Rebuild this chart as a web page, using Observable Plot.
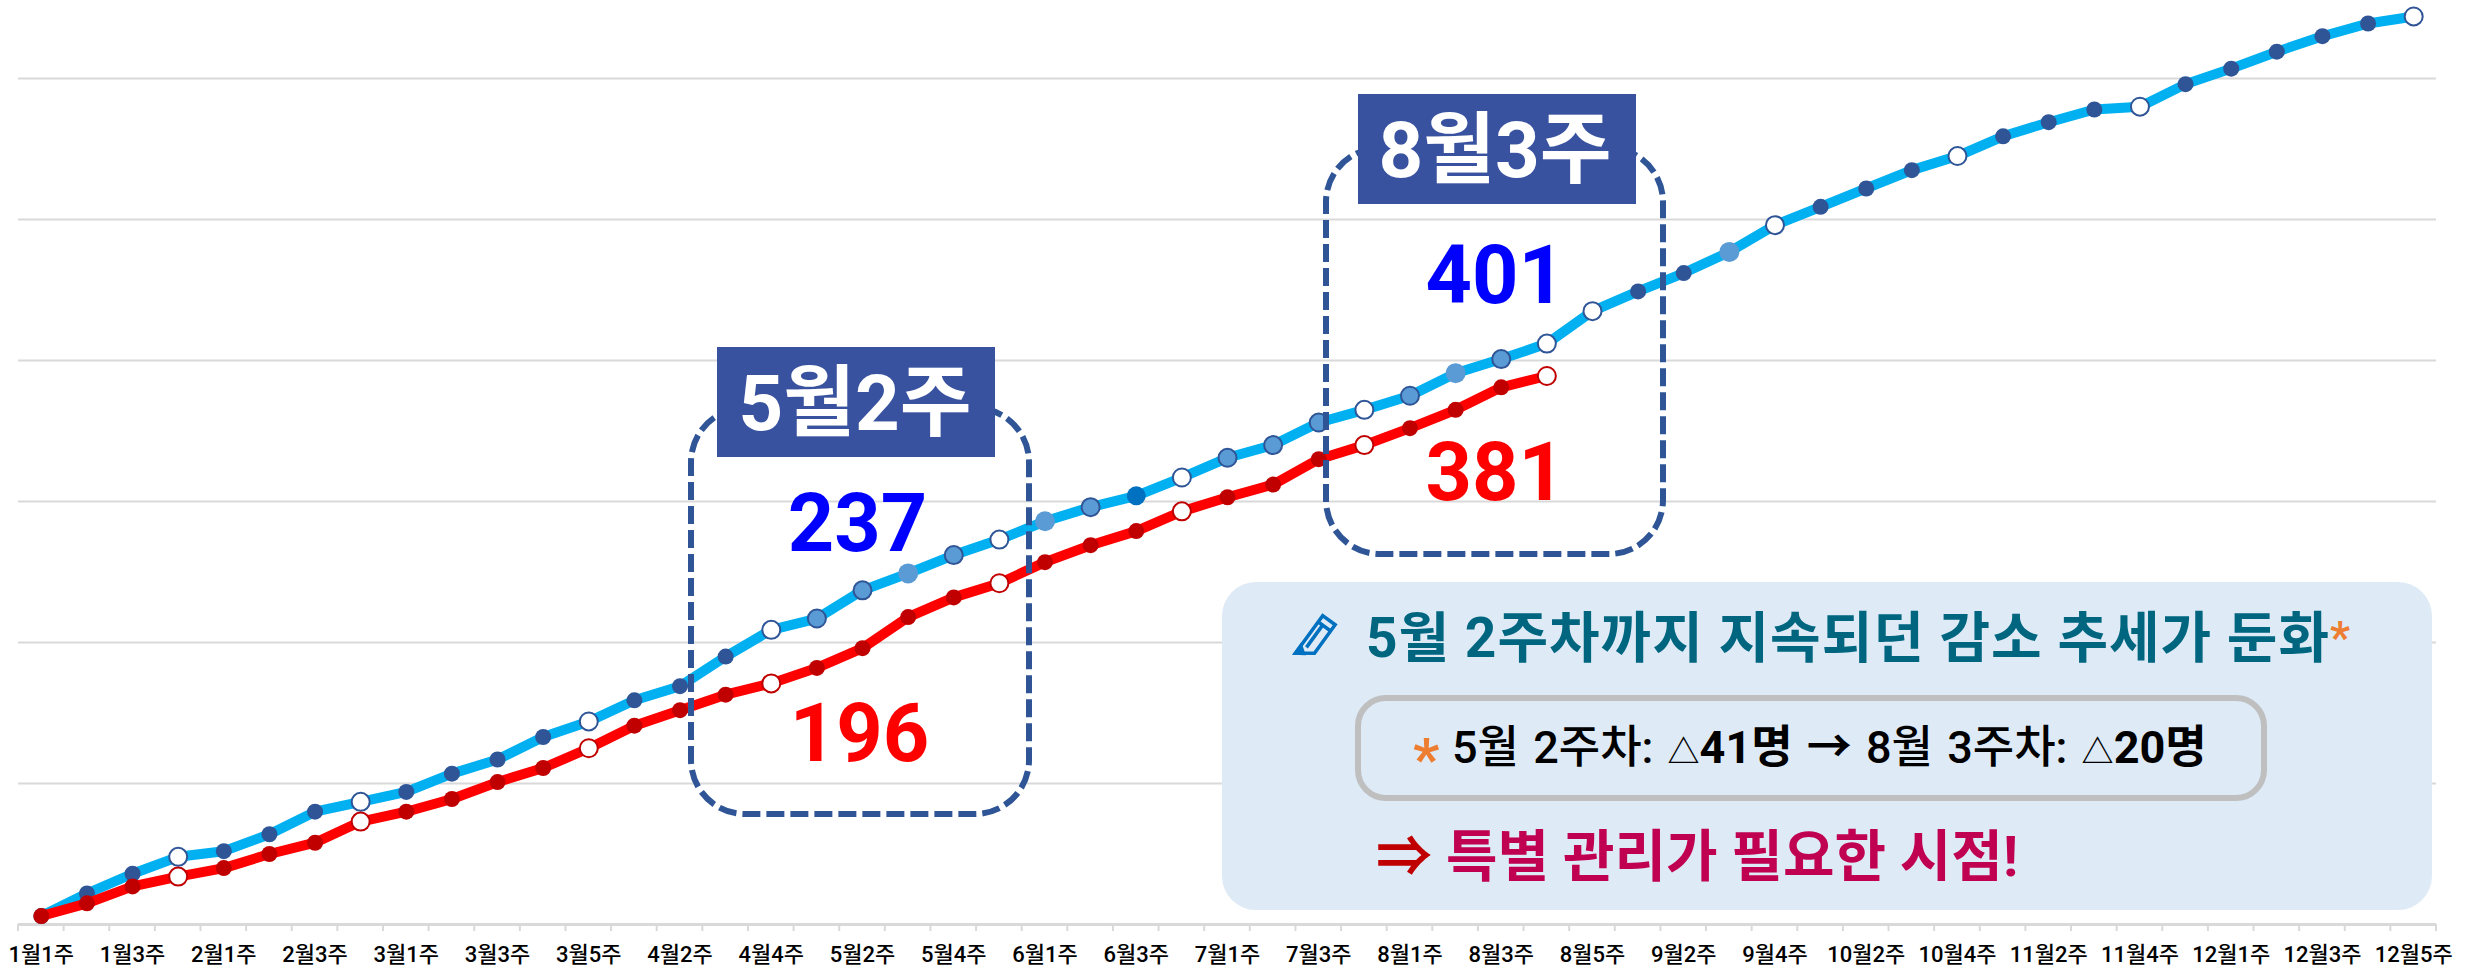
<!DOCTYPE html>
<html lang="ko">
<head>
<meta charset="utf-8">
<script src="https://cdn.jsdelivr.net/npm/d3@7"></script>
<script src="https://cdn.jsdelivr.net/npm/@observablehq/plot@0.6"></script>
<style>
html,body{margin:0;padding:0;background:#fff}
#chart svg{display:block}
</style>
</head>
<body>
<div id="chart"></div>
<script>
const weeks = ["1월1주","1월2주","1월3주","1월4주","2월1주","2월2주","2월3주","2월4주","3월1주","3월2주","3월3주","3월4주","3월5주","4월1주","4월2주","4월3주","4월4주","5월1주","5월2주","5월3주","5월4주","5월5주","6월1주","6월2주","6월3주","6월4주","7월1주","7월2주","7월3주","7월4주","8월1주","8월2주","8월3주","8월4주","8월5주","9월1주","9월2주","9월3주","9월4주","10월1주","10월2주","10월3주","10월4주","11월1주","11월2주","11월3주","11월4주","11월5주","12월1주","12월2주","12월3주","12월4주","12월5주"];
const blueValues = [6,22,36,48,52,64,80,87,94,107,117,133,144,159,169,190,209,217,237,249,262,273,286,296,304,317,331,340,356,365,375,391,401,412,435,449,462,477,496,509,522,535,545,559,569,578,580,596,607,619,630,639,644];
const redValues = [6,15,27,34,40,50,58,73,80,89,101,111,125,141,152,163,171,182,196,218,232,242,257,269,279,293,303,312,330,340,352,365,381,389];
const gridValues = [100,200,300,400,500,600];
const blueHollow = [3,7,12,16,21,25,29,33,34,38,42,46,52];
const blueEdged = [17,18,20,23,26,27,28,30,32];
const bluePale = [19,22,31,37];
const blueDeep = [24];
const redHollow = [3,7,12,16,21,25,29,33];
const calloutWeeks = ["5월2주","5월2주","8월3주","8월3주"];
const calloutValues = [237,196,401,381];
const calloutColors = ["#0000FF","#FF0000","#0000FF","#FF0000"];

const blue = blueValues.map((v,i)=>({week:weeks[i],v,i}));
const red = redValues.map((v,i)=>({week:weeks[i],v,i}));
const special = new Set([...blueHollow,...blueEdged,...bluePale,...blueDeep]);
const redSpecial = new Set(redHollow);
const font = "Roboto, 'Noto Sans CJK KR', sans-serif";
const calloutOffsets = [[-5,-65],[-3,87],[-6,-82],[-6,87]];

function overlay(index, scales, values, dims){
  const g = d3.create("svg:g").attr("font-family", font).attr("text-anchor","start");
  const step = (dims.width-dims.marginLeft-dims.marginRight)/weeks.length;
  const base = dims.height-dims.marginBottom;
  for(let i=0;i<=weeks.length;i++){
    const tx = dims.marginLeft+i*step;
    g.append("line").attr("x1",tx).attr("x2",tx).attr("y1",base).attr("y2",base+7).attr("stroke","#D9D9D9").attr("stroke-width",2);
  }
  for(const [x,y,w,h] of [[691,408,338,406],[1326,148,337,406]]){
    g.append("rect").attr("x",x).attr("y",y).attr("width",w).attr("height",h).attr("rx",54).attr("ry",54)
      .attr("fill","none").attr("stroke","#2F5597").attr("stroke-width",6).attr("stroke-dasharray","18 6");
  }
  for(const [x,y,label,shift] of [[717,347,"5월2주",-1],[1358,94,"8월3주",-2]]){
    g.append("rect").attr("x",x).attr("y",y).attr("width",278).attr("height",110).attr("fill","#38529F");
    g.append("text").attr("x",x+139+shift).attr("y",y+83).attr("text-anchor","middle").attr("fill","#fff")
      .attr("font-size",78).attr("font-weight",700).text(label);
  }
  g.append("rect").attr("x",1222).attr("y",582).attr("width",2432-1222).attr("height",328).attr("rx",34).attr("fill","#DEEAF6");
  g.append("rect").attr("x",1358).attr("y",698).attr("width",906).attr("height",100).attr("rx",28).attr("fill","none").attr("stroke","#BFBFBF").attr("stroke-width",6);
  const p = g.append("g").attr("transform","translate(1316,638) rotate(36) scale(1.1)").attr("fill","none").attr("stroke","#0070C0").attr("stroke-width",3.2);
  p.append("path").attr("d","M-7,-20 L7,-20 L7,12 L-7,22 Z M-7,-13 L7,-13 M-2,-13 L-2,12");
  p.append("path").attr("d","M-7,14 L-1,18 L-7,22 Z").attr("fill","#0070C0");
  const title = g.append("text").attr("x",1366).attr("y",657).attr("font-size",55).attr("font-weight",700).attr("fill","#006680").attr("letter-spacing","1");
  title.append("tspan").text("5월 2주차까지 지속되던 감소 추세가 둔화");
  title.append("tspan").attr("fill","#ED7D31").attr("font-size",44).attr("dy",-4).text("*");
  g.append("text").attr("x",1413).attr("y",779).attr("font-size",58).attr("font-weight",700).attr("fill","#ED7D31").text("*");
  const mid = g.append("text").attr("x",1452).attr("y",763).attr("font-size",45).attr("font-weight",500).attr("fill","#000").attr("word-spacing","3");
  mid.append("tspan").text("5월 2주차: ");
  mid.append("tspan").attr("font-size",32).text("△");
  mid.append("tspan").attr("font-weight",700).text("41명 → ");
  mid.append("tspan").text("8월 3주차: ");
  mid.append("tspan").attr("font-size",32).text("△");
  mid.append("tspan").attr("font-weight",700).text("20명");
  const last = g.append("text").attr("x",1376).attr("y",876).attr("font-size",56).attr("font-weight",700).attr("fill","#C00050");
  last.append("tspan").attr("fill","#C00000").text("⇒ ");
  last.append("tspan").text("특별 관리가 필요한 시점!");
  return g.node();
}

const plot = Plot.plot({
  width: 2468, height: 968,
  marginLeft: 18, marginRight: 32, marginTop: 7.5, marginBottom: 44,
  style: {fontFamily: font, background: "#fff"},
  x: {type:"point", domain: weeks, padding: 0.5, axis: null},
  y: {domain:[0,650], axis:null},
  marks: [
    Plot.ruleY(gridValues,{stroke:"#D9D9D9",strokeWidth:2}),
    Plot.ruleY([0],{stroke:"#D9D9D9",strokeWidth:3}),
    Plot.axisX({
      ticks: weeks.filter((d,i)=>i%2===0), anchor:"bottom", tickSize:0, tickPadding:22, fontSize:22, fontWeight:500, fill:"#000", label:null
    }),
    Plot.line(blue,{x:"week",y:"v",stroke:"#00B0F0",strokeWidth:10,strokeLinejoin:"round"}),
    Plot.dot(blue.filter(d=>!special.has(d.i)),{x:"week",y:"v",r:8,fill:"#2F5597"}),
    Plot.dot(blue.filter(d=>blueHollow.includes(d.i)),{x:"week",y:"v",r:9,fill:"#fff",stroke:"#2F5597",strokeWidth:2}),
    Plot.dot(blue.filter(d=>blueEdged.includes(d.i)),{x:"week",y:"v",r:9,fill:"#5B9BD5",stroke:"#2F5597",strokeWidth:2}),
    Plot.dot(blue.filter(d=>bluePale.includes(d.i)),{x:"week",y:"v",r:10,fill:"#5B9BD5"}),
    Plot.dot(blue.filter(d=>blueDeep.includes(d.i)),{x:"week",y:"v",r:9.5,fill:"#0070C0"}),
    Plot.line(red,{x:"week",y:"v",stroke:"#FF0000",strokeWidth:10,strokeLinejoin:"round"}),
    Plot.dot(red.filter(d=>!redSpecial.has(d.i)),{x:"week",y:"v",r:8,fill:"#C00000"}),
    Plot.dot(red.filter(d=>redSpecial.has(d.i)),{x:"week",y:"v",r:9,fill:"#fff",stroke:"#C00000",strokeWidth:2}),
    ...calloutValues.map((v,i)=>Plot.text([{week:calloutWeeks[i],v}],{
      x:"week",y:"v",text:d=>String(d.v),fill:calloutColors[i],fontSize:81,fontWeight:700,
      dx:calloutOffsets[i][0], dy:calloutOffsets[i][1], lineAnchor:"middle"
    })),
    overlay
  ]
});
document.getElementById("chart").append(plot);
</script>
</body>
</html>
